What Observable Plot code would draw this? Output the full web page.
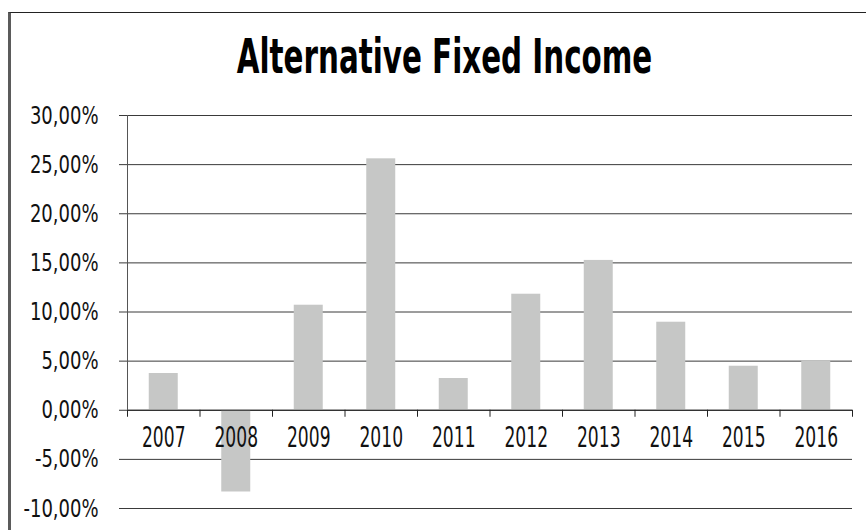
<!DOCTYPE html>
<html><head><meta charset="utf-8">
<script src="https://cdn.jsdelivr.net/npm/d3@7"></script>
<script src="https://cdn.jsdelivr.net/npm/@observablehq/plot@0.6"></script>
<style>
html,body{margin:0;padding:0;background:#fff;overflow:hidden;width:866px;height:530px}
#chart{position:absolute;left:0;top:0}
#frame{position:absolute;left:8px;top:12px;width:900px;height:600px;border-left:3px solid #5b5b5b;border-top:1.5px solid #222;box-sizing:border-box}
#title{position:absolute;left:0;top:32px;width:889px;text-align:center;font-family:"DejaVu Sans Condensed",sans-serif;font-weight:bold;font-size:48px;line-height:48px;color:#000;transform:scaleX(0.68);transform-origin:444.5px 0;white-space:nowrap}
</style></head><body>
<div id="chart"></div><div id="frame"></div><div id="title">Alternative Fixed Income</div>
<script>
const years = ["2007","2008","2009","2010","2011","2012","2013","2014","2015","2016"];
const values = [3.74, -8.32, 10.69, 25.59, 3.23, 11.81, 15.25, 8.96, 4.48, 5.02];
const yTicks = [-0.10, -0.05, 0, 0.05, 0.10, 0.15, 0.20, 0.25, 0.30];

const fmt = d3.formatLocale({decimal: ",", thousands: ".", grouping: [3], currency: ["", ""], minus: "-"}).format(".2%");
const data = years.map((year, i) => ({year, i, value: values[i] / 100}));
const boundaries = d3.range(years.length + 1);
const font = "'DejaVu Sans Condensed', sans-serif";

const chart = Plot.plot({
  width: 866,
  height: 530,
  marginLeft: 127,
  marginRight: 14,
  marginTop: 115,
  marginBottom: 22,
  style: {fontFamily: font, background: "transparent"},
  x: {domain: [0, years.length], axis: null},
  y: {domain: [-0.10, 0.30]},
  marks: [
    Plot.gridY(yTicks, {stroke: "#3a3a3a", strokeOpacity: 1, strokeWidth: 1}),
    Plot.axisY(yTicks, {tickSize: 8, tickPadding: 21, tickFormat: fmt, fontSize: 25, fill: "#111", stroke: "#3a3a3a", label: null}),
    Plot.rectY(data, {x1: "i", x2: d => d.i + 1, y: "value", fill: "#c6c7c6", insetLeft: 21.75, insetRight: 21.75}),
    Plot.ruleY([0], {stroke: "#222"}),
    Plot.ruleX([0], {y1: 0, y2: 0.30, stroke: "#555"}),
    Plot.ruleX(boundaries, {y1: 0, y2: 0, insetBottom: -7, stroke: "#222"}),
    Plot.text(data, {x: d => d.i + 0.5, y: 0, text: "year", dy: 28, fontSize: 28, fill: "#111", lineAnchor: "middle"})
  ]
});

function squeeze(texts, s) {
  texts.forEach(t => {
    const tr = t.getAttribute("transform") || "";
    t.setAttribute("transform", `${tr} scale(${s},1)`);
  });
}
squeeze(chart.querySelectorAll('g[aria-label="y-axis tick label"] text'), 0.8);
squeeze(chart.querySelectorAll('g[aria-label="text"] text'), 0.68);
document.getElementById("chart").appendChild(chart);
</script>
</body></html>
